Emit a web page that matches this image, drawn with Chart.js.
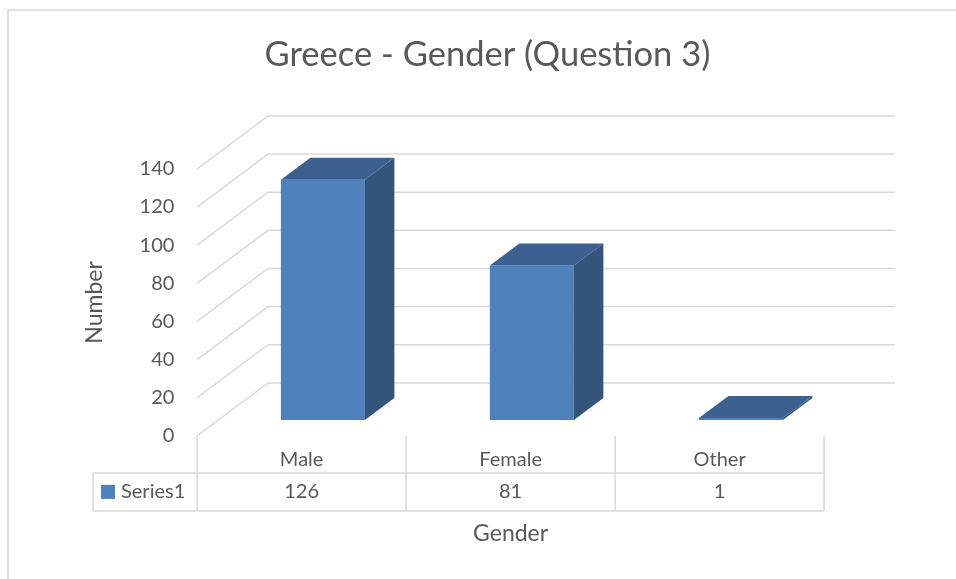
<!DOCTYPE html>
<html>
<head>
<meta charset="utf-8">
<title>Greece - Gender (Question 3)</title>
<script src="https://cdn.jsdelivr.net/npm/chart.js@4.4.1/dist/chart.umd.min.js"></script>
<style>
  html, body { margin: 0; padding: 0; background: #fff; }
  canvas { display: block; }
</style>
</head>
<body>
<canvas id="genderChart" width="956" height="579"></canvas>
<script>
const categories = ["Male", "Female", "Other"];
const counts = [126, 81, 1];
const seriesName = "Series1";
const yMax = 140;
const yStep = 20;

const textColor = "#595959";
const gridColor = "#d9d9d9";
const frontColor = "#4f81bd";
const sideColor = "#34547a";
const topColor = "#3c6190";
const fontFamily = "Lato, 'Open Sans', sans-serif";

// depth of the 3D box (front edge -> back wall); bar plane sits 30% in
const depthX = 71, depthY = 53;
const planePos = 0.3;
const barDepth = 0.415;
const frontDX = -planePos * depthX, frontDY = planePos * depthY;
const backDX = (1 - planePos) * depthX, backDY = -(1 - planePos) * depthY;

const box3d = {
  id: "box3d",
  beforeDatasetsDraw(chart) {
    const { ctx, chartArea, scales: { x, y } } = chart;
    ctx.save();
    ctx.strokeStyle = gridColor;
    ctx.lineWidth = 1.5;

    // chart border
    ctx.beginPath();
    ctx.moveTo(8, chart.height);
    ctx.lineTo(8, 10);
    ctx.lineTo(chart.width, 10);
    ctx.stroke();

    // side wall + back wall gridlines
    y.ticks.forEach(t => {
      const py = y.getPixelForValue(t.value);
      ctx.beginPath();
      ctx.moveTo(chartArea.left + frontDX, py + frontDY);
      ctx.lineTo(chartArea.left + backDX, py + backDY);
      ctx.lineTo(chartArea.right + backDX, py + backDY);
      ctx.stroke();
    });

    // data table under the plot
    const band = (chartArea.right - chartArea.left) / categories.length;
    const y0 = y.getPixelForValue(0) + frontDY;
    const left = chartArea.left + frontDX;
    const right = chartArea.right + frontDX;
    const rowTop = y0 + 37, rowBottom = y0 + 75, tableLeft = 93;

    ctx.beginPath();
    ctx.moveTo(tableLeft, rowTop); ctx.lineTo(right, rowTop);
    ctx.moveTo(tableLeft, rowBottom); ctx.lineTo(right, rowBottom);
    ctx.moveTo(tableLeft, rowTop); ctx.lineTo(tableLeft, rowBottom);
    for (let i = 0; i <= categories.length; i++) {
      const vx = left + i * band;
      ctx.moveTo(vx, y0); ctx.lineTo(vx, rowBottom);
    }
    ctx.stroke();

    const rowMid = (rowTop + rowBottom) / 2;
    ctx.font = "20px " + fontFamily;
    ctx.fillStyle = textColor;
    ctx.textBaseline = "middle";
    ctx.textAlign = "center";
    counts.forEach((v, i) => {
      ctx.fillText(String(v), left + (i + 0.5) * band, rowMid);
    });
    ctx.textAlign = "left";
    ctx.fillText(seriesName, 121, rowMid);
    ctx.fillStyle = frontColor;
    ctx.fillRect(101, rowMid - 7, 14, 14);

    // axis titles (sit on the front plane, not the bar plane)
    ctx.fillStyle = textColor;
    ctx.font = "23px " + fontFamily;
    ctx.textAlign = "center";
    ctx.fillText("Gender", (left + right) / 2, 534);
    const yTop = y.getPixelForValue(yMax) + frontDY;
    ctx.translate(95, (yTop + y0) / 2);
    ctx.rotate(-Math.PI / 2);
    ctx.fillText("Number", 0, 0);
    ctx.restore();
  },
  afterDatasetsDraw(chart) {
    const { ctx } = chart;
    const dx = barDepth * depthX, dy = -barDepth * depthY;
    ctx.save();
    chart.getDatasetMeta(0).data.forEach(bar => {
      const { x, y, base, width } = bar.getProps(["x", "y", "base", "width"], true);
      const l = x - width / 2, r = x + width / 2;
      ctx.fillStyle = sideColor;
      ctx.beginPath();
      ctx.moveTo(r, y); ctx.lineTo(r + dx, y + dy);
      ctx.lineTo(r + dx, base + dy); ctx.lineTo(r, base);
      ctx.closePath();
      ctx.fill();
      ctx.fillStyle = topColor;
      ctx.beginPath();
      ctx.moveTo(l, y); ctx.lineTo(r, y);
      ctx.lineTo(r + dx, y + dy); ctx.lineTo(l + dx, y + dy);
      ctx.closePath();
      ctx.fill();
    });
    ctx.restore();
  }
};

new Chart(document.getElementById("genderChart"), {
  type: "bar",
  data: {
    labels: categories,
    datasets: [{
      label: seriesName,
      data: counts,
      backgroundColor: frontColor,
      borderWidth: 0,
      barPercentage: 0.402,
      categoryPercentage: 1
    }]
  },
  options: {
    responsive: false,
    animation: false,
    layout: { padding: { left: 19, right: 0, top: 0, bottom: 0 } },
    plugins: {
      legend: { display: false },
      tooltip: { enabled: false },
      title: {
        display: true,
        text: "Greece - Gender (Question 3)",
        color: textColor,
        font: { family: fontFamily, size: 34.5, weight: "normal" },
        padding: { top: 34.3, bottom: 77.3 }
      }
    },
    scales: {
      x: {
        grid: { display: false, drawTicks: false },
        border: { display: false },
        ticks: { color: textColor, font: { family: fontFamily, size: 20 }, padding: 28, labelOffset: frontDX },
        afterFit: s => { s.height = 159; }
      },
      y: {
        min: 0,
        max: yMax,
        grid: { display: false, drawTicks: false },
        border: { display: false },
        ticks: { stepSize: yStep, color: textColor, font: { family: fontFamily, size: 20 }, padding: 44, labelOffset: frontDY },
        afterFit: s => { s.width = 199.4; }
      },
      // empty right-hand axis: keeps room for the back wall's depth
      spacer: {
        type: "linear",
        position: "right",
        grid: { display: false, drawTicks: false },
        border: { display: false },
        ticks: { display: false },
        afterFit: s => { s.width = 110.6; }
      }
    }
  },
  plugins: [box3d]
});
</script>
</body>
</html>
